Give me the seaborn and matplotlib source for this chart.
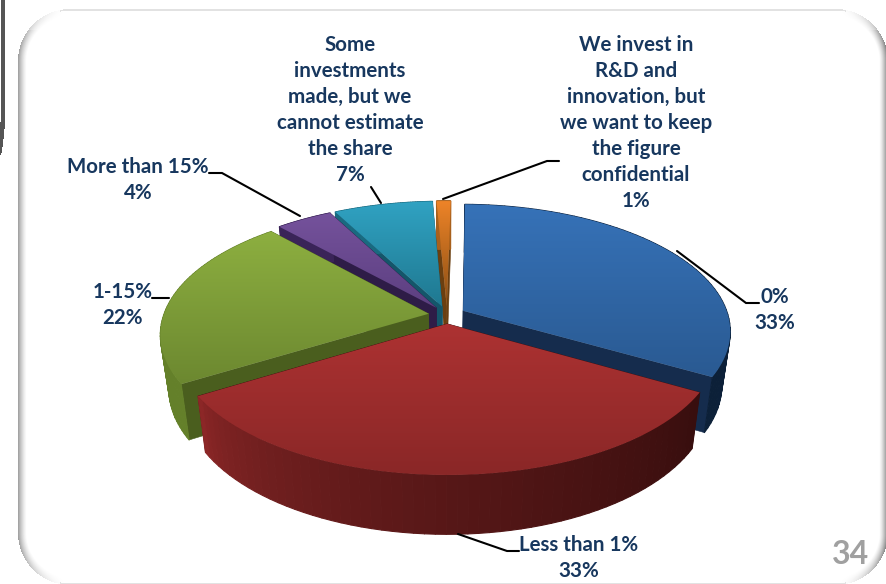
import numpy as np
import matplotlib
matplotlib.use("Agg")
import matplotlib.pyplot as plt
from matplotlib.collections import PolyCollection
from matplotlib.patches import Polygon
from matplotlib.colors import to_rgb
import seaborn as sns

# Survey answers, clockwise from twelve o'clock
categories = ["0%", "Less than 1%", "1-15%", "More than 15%",
              "Some\ninvestments\nmade, but we\ncannot estimate\nthe share",
              "We invest in\nR&D and\ninnovation, but\nwe want to keep\nthe figure\nconfidential"]
shares = [33, 33, 22, 4, 7, 1]
page_number = "34"

top_start = ["#3672B8", "#AD3232", "#8DAF40", "#75529C", "#30A2C2", "#EE8428"]
top_end = ["#2A5A92", "#8A2727", "#6C8830", "#5C3F80", "#1F7890", "#8A4E14"]
rim_start = ["#0E2542", "#8C2727", "#64802A", "#3A2458", "#1A6A80", "#A8601C"]
rim_end = ["#0C2038", "#380E0E", "#64802A", "#3A2458", "#1A6A80", "#A8601C"]
cut_color = ["#152C4D", "#3A0F0F", "#4A5E1E", "#2E1C47", "#14566A", "#6B3F10"]
draw_order = [5, 4, 3, 2, 0, 1]

# Pie projection: centre, radii, perspective, rotation and explosion
CX, CY, RX, RY, PERSP, EXPLODE = 447.0, 315.0, 265.0, 124.4, 0.157, 0.07
ROTATION = 1.0
DEPTH, BASE_SHRINK = 53.0, 0.97

label_anchor = [(775, 296), (579, 544), (123, 291), (138, 166), (350, 44), (636, 44)]
leaders = [
    [(677, 251), (746, 303), (759, 303)],
    [(458, 534), (507, 551), (519, 551)],
    [(152, 298), (169, 298)],
    [(209, 173), (222, 173), (300, 216)],
    [(371, 187), (381, 203)],
    [(443, 199), (547, 161), (559, 161)],
]

sns.set_theme(style="white")
plt.rcParams["font.family"] = ["Lato", "DejaVu Sans"]

W, H = 887, 584
fig = plt.figure(figsize=(W / 100, H / 100), dpi=100, facecolor="white")
ax = fig.add_axes([0, 0, 1, 1])
ax.set_xlim(0, W)
ax.set_ylim(H, 0)
ax.axis("off")


def rounded_frame():
    """Bevelled rounded panel, rendered from a signed distance field."""
    x0, x1, y0, y1, r = 18.0, 888.0, 9.0, 585.0, 52.0
    xx, yy = np.meshgrid(np.arange(W) + 0.5, np.arange(H) + 0.5)
    mx, my = (x0 + x1) / 2, (y0 + y1) / 2
    qx = np.abs(xx - mx) - ((x1 - x0) / 2 - r)
    qy = np.abs(yy - my) - ((y1 - y0) / 2 - r)
    ox, oy = np.maximum(qx, 0), np.maximum(qy, 0)
    corner = np.hypot(ox, oy)
    dist = corner + np.minimum(np.maximum(qx, qy), 0) - r
    nx = np.where(corner > 0, ox / np.maximum(corner, 1e-6), (qx > qy).astype(float))
    band = np.clip(1 + dist / 9.0, 0, 1)
    right = xx > mx
    strength = np.where(right, 135.0, 100.0)
    strength = np.where(yy < 30, strength * 0.75, strength)
    img = 255 - strength * band ** 1.4 * nx ** 2
    img = np.where((dist > -1.6) & (np.abs(nx) < 0.2), 226.0, img)
    img = np.where(dist > 0, 255.0, img)
    # neighbouring panel's edge, just visible at the far left
    edge_x = 3.0 - 4.0 * np.clip((yy - 110) / 45.0, 0, 1) ** 2
    img = np.where((np.abs(xx - edge_x) < 2.2) & (yy < 155), 85.0, img)
    ax.imshow(img, cmap="gray", vmin=0, vmax=255, extent=(0, W, H, 0),
              aspect="auto", zorder=0, interpolation="bilinear")


def project(u, v, base=False):
    scale = 1.0 / (1.0 - PERSP * v)
    x = CX + RX * u * scale
    y = CY + RY * v * scale
    if base:
        x = CX + (x - CX) * BASE_SHRINK
        y = y + DEPTH / (1.0 - 0.1 * v)
    return np.column_stack([x, y])


def draw_slice(idx, start_deg, end_deg):
    mid = np.radians((start_deg + end_deg) / 2)
    ou, ov = EXPLODE * np.sin(mid), -EXPLODE * np.cos(mid)
    theta = np.radians(np.linspace(start_deg, end_deg, 60))
    arc_u, arc_v = ou + np.sin(theta), ov - np.cos(theta)
    apex_u, apex_v = np.array([ou]), np.array([ov])

    arc_top, arc_base = project(arc_u, arc_v), project(arc_u, arc_v, True)
    apex_top, apex_base = project(apex_u, apex_v), project(apex_u, apex_v, True)

    # flat cut faces
    for k in (0, -1):
        face = [apex_top[0], arc_top[k], arc_base[k], apex_base[0]]
        ax.add_patch(Polygon(face, closed=True, fc=cut_color[idx], ec=cut_color[idx],
                             lw=0.4, zorder=2 + draw_order.index(idx)))

    # curved outer wall, shaded along the arc
    c0, c1 = np.array(to_rgb(rim_start[idx])), np.array(to_rgb(rim_end[idx]))
    quads, colors = [], []
    for j in range(len(theta) - 1):
        quads.append([arc_top[j], arc_top[j + 1], arc_base[j + 1], arc_base[j]])
        t = j / (len(theta) - 2)
        if idx == 1:
            # the front wall darkens towards the right-hand end of the arc
            t = (1 - t) ** 0.65
        colors.append(tuple(c0 + (c1 - c0) * t))
    ax.add_collection(PolyCollection(quads, facecolors=colors, edgecolors=colors,
                                     linewidths=0.8, zorder=2 + draw_order.index(idx)))

    # top surface with a vertical gradient, clipped to the wedge outline
    outline = np.vstack([apex_top, arc_top])
    ymin, ymax = outline[:, 1].min(), outline[:, 1].max()
    xmin, xmax = outline[:, 0].min(), outline[:, 0].max()
    cmap = sns.blend_palette([top_start[idx], top_end[idx]], as_cmap=True)
    grad = np.linspace(0, 1, 128)[:, None]
    im = ax.imshow(grad, cmap=cmap, extent=(xmin, xmax, ymax, ymin), aspect="auto",
                   zorder=2.5 + draw_order.index(idx))
    im.set_clip_path(Polygon(outline, closed=True, transform=ax.transData))


rounded_frame()

bounds = np.concatenate([[0], np.cumsum(shares)]) * 360.0 / sum(shares) + ROTATION
for i in draw_order:
    draw_slice(i, bounds[i], bounds[i + 1])

ax.set_xlim(0, W)
ax.set_ylim(H, 0)

# Leader lines and data labels
for pts in leaders:
    xs, ys = zip(*pts)
    ax.plot(xs, ys, color="black", lw=1.5, zorder=20, solid_joinstyle="miter")

LINE_STEP = 26
for name, share, (lx, ly) in zip(categories, shares, label_anchor):
    for n, line in enumerate(name.split("\n") + [f"{share}%"]):
        ax.text(lx, ly + 1 + n * LINE_STEP, line, ha="center", va="center",
                fontsize=14.8, fontweight="bold", color="#17375E", zorder=21)

ax.text(851, 555, page_number, ha="center", va="center", fontsize=23,
        fontweight="bold", color="#A0A0A0", zorder=21)

fig.savefig("out.png", dpi=100, facecolor="white")
